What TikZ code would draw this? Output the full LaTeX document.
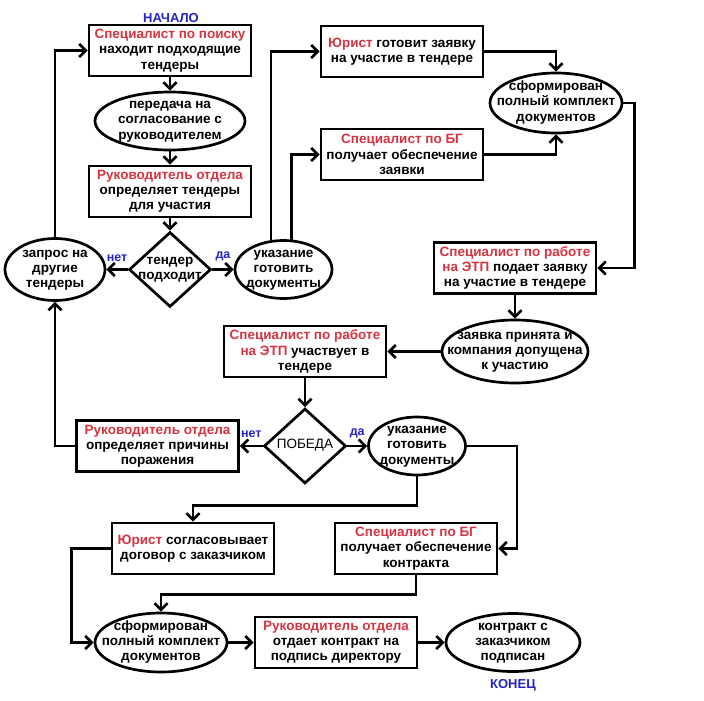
\documentclass[tikz,border=0pt]{standalone}
\usepackage{fontspec}
\setmainfont{Liberation Sans}
\usetikzlibrary{shapes.geometric,arrows.meta,calc}

\definecolor{rolered}{RGB}{214,52,64}
\definecolor{markblue}{RGB}{36,36,200}
\newcommand{\who}[1]{\textcolor{rolered}{#1}}
\newcommand{\ztext}[1]{\makebox[0pt]{\raisebox{-0.25em}[0pt][0pt]{\begin{tabular}{@{}c@{}}#1\end{tabular}}}}

\begin{document}
\begin{tikzpicture}[x=1pt,y=-1pt,line width=2.7pt,
    >={Straight Barb[length=6.5pt,width=13pt]},
    every node/.style={font=\fontsize{13.5}{15.2}\selectfont\bfseries}]
    \pgfmathsetmacro{\boxw}{162}
    \pgfmathsetmacro{\boxh}{51}
    \tikzset{
        box/.style={draw,rectangle,fill=white,inner sep=0pt,align=center,
            minimum width=\boxw pt,minimum height=\boxh pt},
        oval/.style={draw,ellipse,fill=white,inner sep=0pt},
        choice/.style={draw,diamond,fill=white,inner sep=0pt,
            minimum width=82pt,minimum height=75pt},
        answer/.style={text=markblue,font=\fontsize{12.5}{14}\selectfont\bfseries,
            inner sep=0pt,yshift=7pt},
        tagtext/.style={text=markblue,font=\fontsize{13}{15}\selectfont\bfseries}
    }
    \useasboundingbox (0,0) rectangle (704,701);

    % Search and selection
    \node[tagtext] (begin) at (171,18) {НАЧАЛО};
    \node[box] (search) at (170,50.5) {\who{Специалист по поиску}\\находит подходящие\\тендеры};
    \node[oval,minimum width=150pt,minimum height=58pt] (pass) at (170,121)
        {\ztext{передача на\\согласование с\\руководителем}};
    \node[box] (select) at (170,191.5) {\who{Руководитель отдела}\\определяет тендеры\\для участия};
    \node[choice] (fit) at (170,269.5) {\ztext{тендер\\подходит}};
    \node[oval,minimum width=100pt,minimum height=62pt] (more) at (55,269.5)
        {\ztext{запрос на\\другие\\тендеры}};
    \node[oval,minimum width=97pt,minimum height=58pt] (order1) at (283.5,269.5)
        {\ztext{указание\\готовить\\документы}};

    % Application
    \node[box] (lawyer1) at (402,51.5) {\who{Юрист} готовит заявку\\на участие в тендере};
    \node[box] (guar1) at (402,154.5) {\who{Специалист по БГ}\\получает обеспечение\\заявки};
    \node[oval,minimum width=132pt,minimum height=60pt] (docs1) at (556,103)
        {\ztext{сформирован\\полный комплект\\документов}};
    \node[box] (apply) at (515,268) {\who{Специалист по работе}\\\who{на ЭТП} подает заявку\\на участие в тендере};
    \node[oval,minimum width=146pt,minimum height=63pt] (admit) at (515,351.5)
        {\ztext{заявка принята и\\компания допущена\\к участию}};
    \node[box] (bid) at (305,351.5) {\who{Специалист по работе}\\\who{на ЭТП} участвует в\\тендере};

    % Result
    \node[choice] (win) at (305,446) {\ztext{\mdseries ПОБЕДА}};
    \node[box] (loss) at (157.5,446) {\who{Руководитель отдела}\\определяет причины\\поражения};
    \node[oval,minimum width=97pt,minimum height=58pt] (order2) at (417,446)
        {\ztext{указание\\готовить\\документы}};
    \node[box] (lawyer2) at (193,548.5) {\who{Юрист} согласовывает\\договор с заказчиком};
    \node[box] (guar2) at (416,548.5) {\who{Специалист по БГ}\\получает обеспечение\\контракта};
    \node[oval,minimum width=132pt,minimum height=59pt] (docs2) at (161,642.5)
        {\ztext{сформирован\\полный комплект\\документов}};
    \node[box] (sign) at (336,642.5) {\who{Руководитель отдела}\\отдает контракт на\\подпись директору};
    \node[oval,minimum width=134pt,minimum height=58pt] (done) at (513,642.5)
        {\ztext{контракт с\\заказчиком\\подписан}};
    \node[tagtext] (finish) at (513,685) {КОНЕЦ};

    % Connectors
    \draw[->] (search) -- (pass);
    \draw[->] (pass) -- (select);
    \draw[->] (select) -- (fit);
    \draw[->] (fit) -- node[answer,above] (no1) {нет} (more);
    \draw[->] (fit) -- node[answer,above] (yes1) {да} (order1);
    \draw[->] (more.north) |- (search.west);
    \draw[->] (order1.113) |- (lawyer1.west);
    \draw[->] (order1.75) |- (guar1.west);
    \draw[->] (lawyer1.east) -| (docs1.north);
    \draw[->] (guar1.east) -| (docs1.south);
    \draw[->] (docs1.east) -- ++(11,0) |- (apply.east);
    \draw[->] (apply) -- (admit);
    \draw[->] (admit) -- (bid);
    \draw[->] (bid) -- (win);
    \draw[->] (win) -- node[answer,above] (no2) {нет} (loss);
    \draw[->] (win) -- node[answer,above] (yes2) {да} (order2);
    \draw[->] (loss.west) -| (more.south);
    \draw[->] (order2.south) -- ++(0,29) -| (lawyer2.north);
    \draw[->] (order2.east) -- ++(50,0) |- (guar2.east);
    \draw[->] (lawyer2.west) -- ++(-39,0) |- (docs2.west);
    \draw[->] (guar2.south) -- ++(0,19) -| (docs2.north);
    \draw[->] (docs2) -- (sign);
    \draw[->] (sign) -- (done);
\end{tikzpicture}
\end{document}
